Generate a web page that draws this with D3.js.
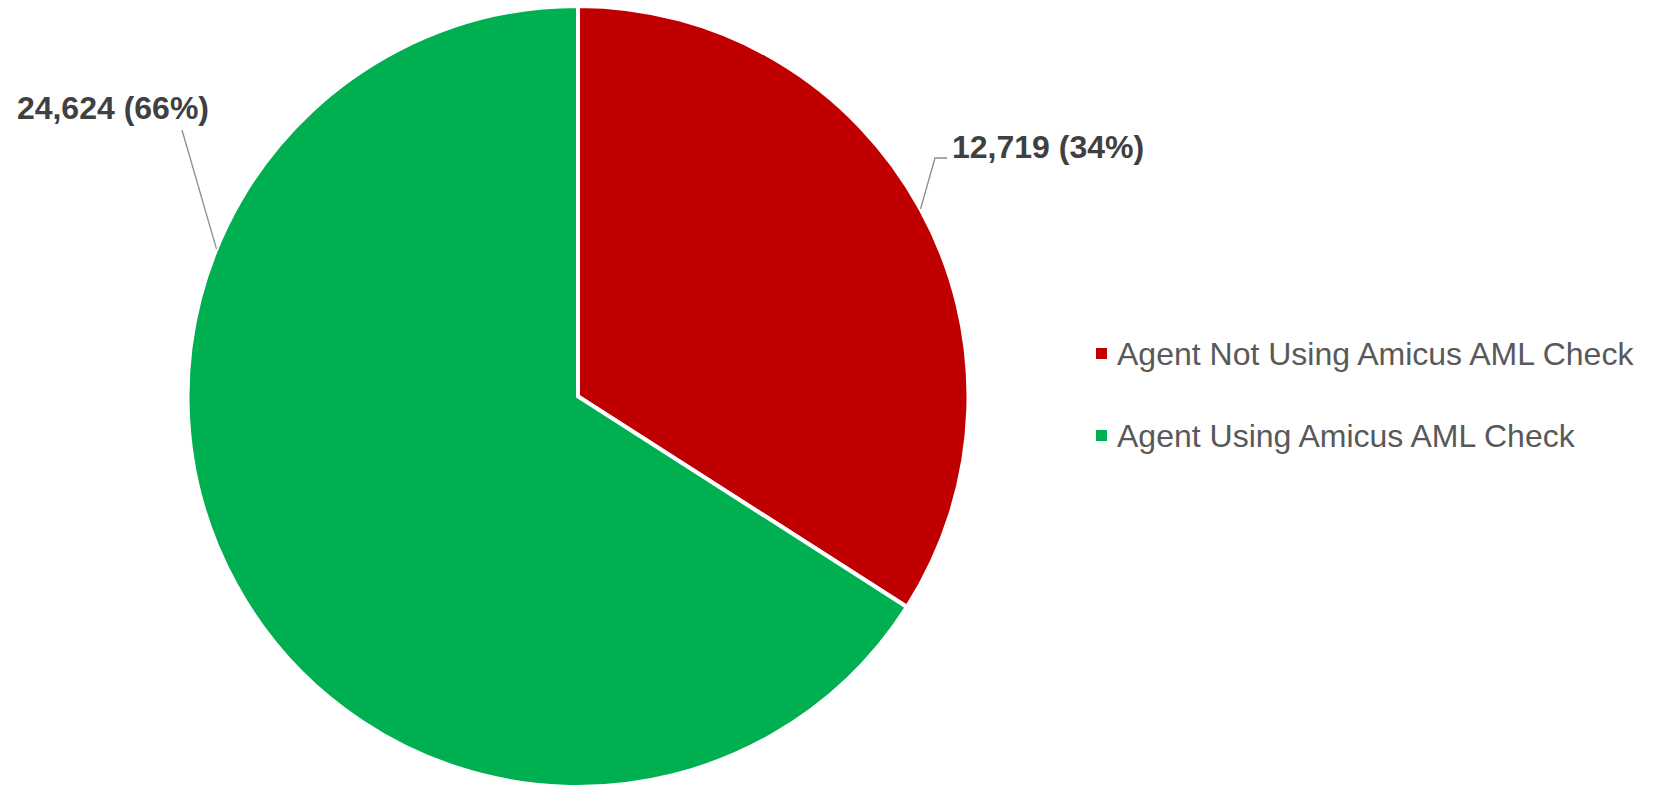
<!DOCTYPE html>
<html lang="en">
  <head>
    <meta charset="UTF-8" />
    <title>Amicus AML Check Pie</title>
    <script src="https://cdn.jsdelivr.net/npm/d3@7"></script>
    <style>
      body {
        margin: 0;
        background-color: #ffffff;
        font-family: "Liberation Sans", Arial, sans-serif;
      }
    </style>
  </head>
  <body>
    <div id="aml_pie"></div>
    <script>
      // Chart data
      const categories = ["Agent Not Using Amicus AML Check", "Agent Using Amicus AML Check"];
      const values = [12719, 24624];
      const colors = ["#C00000", "#00B050"];

      plotPie();

      function plotPie() {
        const width = 1658;
        const height = 789;
        const cx = 578;
        const cy = 396.5;
        const radius = 390.5;

        const svg = d3
          .select("#aml_pie")
          .append("svg")
          .attr("width", width)
          .attr("height", height);

        const total = d3.sum(values);
        const data = categories.map((c, i) => ({ name: c, value: values[i], color: colors[i] }));

        const pie = d3.pie().sort(null).value((d) => d.value);
        const arcs = pie(data);
        const arc = d3.arc().innerRadius(0).outerRadius(radius);

        const g = svg.append("g").attr("transform", `translate(${cx},${cy})`);

        g.selectAll("path.slice")
          .data(arcs)
          .enter()
          .append("path")
          .attr("class", "slice")
          .attr("d", arc)
          .attr("fill", (d) => d.data.color)
          .attr("stroke", "#ffffff")
          .attr("stroke-width", 4);

        // Data labels with leader lines (angle on the rim where the leader starts)
        const fmt = d3.format(",");
        const labelText = (d) => `${fmt(d.data.value)} (${Math.round((d.data.value / total) * 100)}%)`;
        const rimAngle = [(d) => (d.startAngle + d.endAngle) / 2, (d) => 5.1];
        const onRim = (a) => [radius * Math.sin(a), -radius * Math.cos(a)];
        const labels = [
          { x: 952, y: 158, anchor: "start", elbow: [[935, 158], [947, 158]] },
          { x: 209, y: 119, anchor: "end", elbow: [[182, 130]] },
        ];

        arcs.forEach((d, i) => {
          const pts = [onRim(rimAngle[i](d))].concat(labels[i].elbow.map((p) => [p[0] - cx, p[1] - cy]));
          g.append("path")
            .attr("d", d3.line()(pts))
            .attr("fill", "none")
            .attr("stroke", "#8c8c8c")
            .attr("stroke-width", 1.3);

          svg
            .append("text")
            .attr("x", labels[i].x)
            .attr("y", labels[i].y)
            .attr("text-anchor", labels[i].anchor)
            .style("font-size", "32px")
            .style("font-weight", "bold")
            .attr("fill", "#404040")
            .text(labelText(d));
        });

        // Legend
        const legend = svg
          .selectAll("g.legend")
          .data(data)
          .enter()
          .append("g")
          .attr("class", "legend")
          .attr("transform", (d, i) => `translate(1096, ${353.5 + i * 82})`);

        legend
          .append("rect")
          .attr("x", 0)
          .attr("y", -5.5)
          .attr("width", 11)
          .attr("height", 11)
          .attr("fill", (d) => d.color);

        legend
          .append("text")
          .attr("x", 21)
          .attr("y", 0)
          .attr("dy", "0.35em")
          .style("font-size", "32px")
          .attr("fill", "#595959")
          .text((d) => d.name);
      }
    </script>
  </body>
</html>
